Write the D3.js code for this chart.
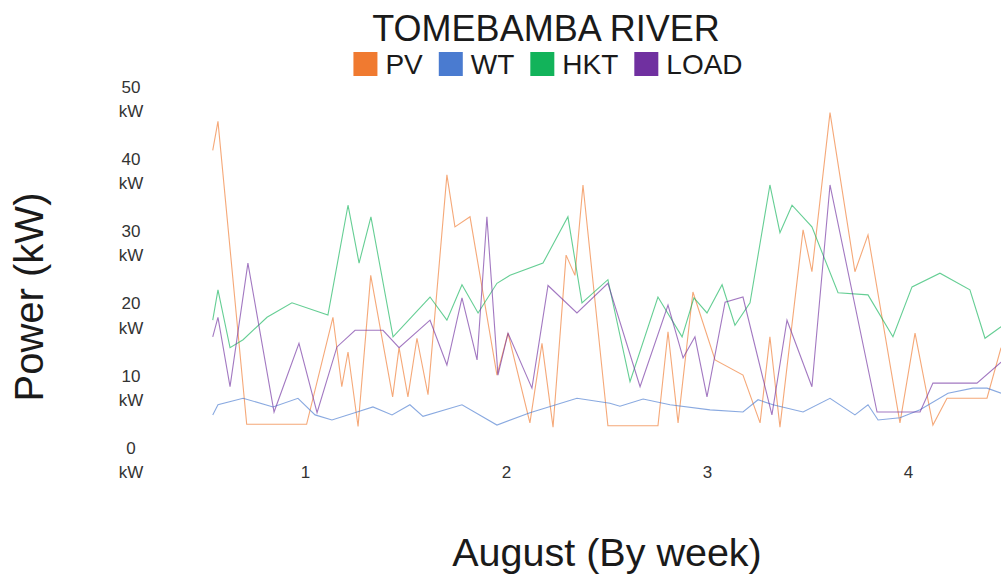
<!DOCTYPE html>
<html>
<head>
<meta charset="utf-8">
<script src="https://cdn.jsdelivr.net/npm/d3@7"></script>
<style>
  html, body { margin: 0; padding: 0; background: #fff; }
  svg { display: block; font-family: "Liberation Sans", Arial, Helvetica, sans-serif; }
</style>
</head>
<body>
<svg id="chart" width="1001" height="583"></svg>
<script>
// ---- data (x in weeks of August, y in kW) ----
const seriesNames = ["PV", "WT", "HKT", "LOAD"];
const seriesColors = ["#F07A30", "#4A7BD0", "#12B35A", "#7030A0"];
const weekTicks = [1, 2, 3, 4];
const powerTicks = [0, 10, 20, 30, 40, 50];

const pvX = [0.541, 0.567, 0.710, 1.008, 1.139, 1.183, 1.214, 1.264, 1.327, 1.436, 1.468, 1.512, 1.557, 1.612, 1.706, 1.746, 1.821, 1.955, 2.010, 2.119, 2.179, 2.234, 2.299, 2.343, 2.383, 2.507, 2.756, 2.806, 2.856, 2.930, 3.040, 3.179, 3.264, 3.313, 3.363, 3.478, 3.522, 3.612, 3.736, 3.801, 3.960, 4.035, 4.124, 4.194, 4.393, 4.463];
const pvY = [42.7, 46.7, 4.8, 4.8, 19.6, 10.0, 14.8, 4.5, 25.4, 8.6, 15.4, 8.6, 16.7, 8.9, 39.3, 32.1, 33.5, 11.6, 17.4, 5.0, 16.0, 4.4, 28.2, 25.4, 37.9, 4.6, 4.6, 17.6, 5.0, 23.1, 13.7, 11.6, 5.0, 16.9, 4.4, 31.7, 25.9, 47.9, 25.9, 31.0, 5.0, 17.4, 4.7, 8.4, 8.4, 15.4];

const wtX = [0.541, 0.567, 0.692, 0.841, 0.965, 1.050, 1.134, 1.259, 1.338, 1.433, 1.522, 1.587, 1.781, 1.955, 2.119, 2.353, 2.517, 2.567, 2.682, 2.816, 3.015, 3.179, 3.254, 3.328, 3.478, 3.612, 3.736, 3.801, 3.851, 3.960, 4.060, 4.199, 4.323, 4.393, 4.463];
const wtY = [6.1, 7.5, 8.4, 7.2, 8.4, 6.1, 5.4, 6.5, 7.2, 6.1, 7.5, 5.9, 7.5, 4.7, 6.4, 8.4, 7.7, 7.3, 8.3, 7.5, 6.8, 6.5, 8.2, 7.5, 6.5, 8.4, 6.1, 7.5, 5.4, 5.7, 6.8, 9.1, 9.8, 9.8, 9.1];

const hktX = [0.541, 0.567, 0.627, 0.692, 0.811, 0.935, 1.114, 1.214, 1.269, 1.328, 1.438, 1.622, 1.706, 1.781, 1.861, 1.955, 2.020, 2.184, 2.308, 2.378, 2.507, 2.617, 2.756, 2.876, 2.935, 3.000, 3.075, 3.139, 3.214, 3.313, 3.363, 3.423, 3.522, 3.652, 3.801, 3.925, 4.020, 4.159, 4.308, 4.383, 4.463];
const hktY = [19.2, 23.4, 15.4, 16.5, 19.6, 21.6, 19.9, 35.1, 27.1, 33.5, 16.9, 22.4, 19.2, 24.1, 20.2, 24.3, 25.4, 27.1, 33.5, 21.6, 24.8, 10.7, 22.4, 16.9, 22.3, 20.2, 24.1, 18.5, 21.6, 37.9, 31.3, 35.1, 32.1, 23.0, 22.7, 16.9, 23.8, 25.7, 23.4, 16.7, 18.3];

const loadX = [0.541, 0.567, 0.627, 0.716, 0.846, 0.970, 1.060, 1.159, 1.249, 1.388, 1.468, 1.622, 1.706, 1.781, 1.856, 1.905, 1.960, 2.010, 2.129, 2.209, 2.353, 2.507, 2.667, 2.806, 2.881, 2.940, 3.000, 3.090, 3.179, 3.323, 3.398, 3.522, 3.612, 3.846, 4.060, 4.124, 4.343, 4.463];
const loadY = [16.9, 19.6, 10.0, 27.1, 6.5, 16.0, 6.4, 15.5, 17.8, 17.8, 15.4, 19.2, 13.0, 22.3, 13.7, 33.5, 11.6, 17.4, 9.8, 24.0, 20.2, 24.3, 10.0, 21.3, 14.0, 16.9, 8.6, 21.7, 22.4, 6.1, 19.2, 10.0, 37.9, 6.5, 6.5, 10.5, 10.5, 13.4];

const seriesX = [pvX, wtX, hktX, loadX];
const seriesY = [pvY, wtY, hktY, loadY];

// ---- chart ----
const svg = d3.select("#chart");
const x = d3.scaleLinear().domain([1, 4]).range([305, 908]);
const y = d3.scaleLinear().domain([0, 50]).range([459, 97.5]);

svg.append("defs").append("clipPath").attr("id", "plotClip")
  .append("rect").attr("x", 190).attr("y", 80).attr("width", 811).attr("height", 400);

// title
svg.append("text").attr("x", 546).attr("y", 41).attr("text-anchor", "middle")
  .attr("font-size", 36).attr("fill", "#1a1a1a").text("TOMEBAMBA RIVER");

// legend
const legend = svg.append("g");
let lx = 0;
seriesNames.forEach((name, i) => {
  const g = legend.append("g").attr("transform", `translate(${lx},0)`);
  g.append("rect").attr("x", 0).attr("y", -12).attr("width", 24).attr("height", 24)
    .attr("fill", seriesColors[i]);
  const t = g.append("text").attr("x", 32).attr("y", 10).attr("font-size", 28)
    .attr("fill", "#1a1a1a").text(name);
  lx += 32 + t.node().getComputedTextLength() + 16;
});
const legendW = lx - 16;
legend.attr("transform", `translate(${548 - legendW / 2},64)`);

// y axis labels
const yAxis = svg.append("g").attr("transform", "translate(150,0)")
  .call(d3.axisLeft(y).tickValues(powerTicks).tickSize(0).tickFormat(""));
yAxis.select(".domain").remove();
yAxis.selectAll(".tick text").remove();
yAxis.selectAll(".tick").append("text")
  .attr("x", -19).attr("text-anchor", "middle").attr("font-size", 17)
  .attr("fill", "#333")
  .each(function(d) {
    const t = d3.select(this);
    t.append("tspan").attr("x", -19).attr("dy", "-0.32em").text(d);
    t.append("tspan").attr("x", -19).attr("dy", "1.42em").text("kW");
  });

// x axis labels
const xAxis = svg.append("g").attr("transform", "translate(0,463)")
  .call(d3.axisBottom(x).tickValues(weekTicks).tickSize(0).tickPadding(3).tickFormat(d3.format("d")));
xAxis.select(".domain").remove();
xAxis.selectAll(".tick text").attr("font-size", 17).attr("fill", "#333")
  .attr("font-family", "Liberation Sans, Arial, sans-serif");

// axis titles
svg.append("text").attr("x", 607).attr("y", 566).attr("text-anchor", "middle")
  .attr("font-size", 39.5).attr("fill", "#1a1a1a").text("August (By week)");
svg.append("text").attr("transform", "translate(43,297) rotate(-90)")
  .attr("text-anchor", "middle").attr("font-size", 40).attr("fill", "#1a1a1a").text("Power (kW)");

// lines
const line = d3.line().x(d => x(d[0])).y(d => y(d[1]));
const plot = svg.append("g").attr("clip-path", "url(#plotClip)");
seriesNames.forEach((name, i) => {
  const pts = seriesX[i].map((xv, j) => [xv, seriesY[i][j]]);
  plot.append("path").datum(pts).attr("d", line)
    .attr("fill", "none").attr("stroke", seriesColors[i])
    .attr("stroke-width", 1.1).attr("stroke-opacity", 0.65)
    .attr("stroke-linejoin", "miter");
});
</script>
</body>
</html>
